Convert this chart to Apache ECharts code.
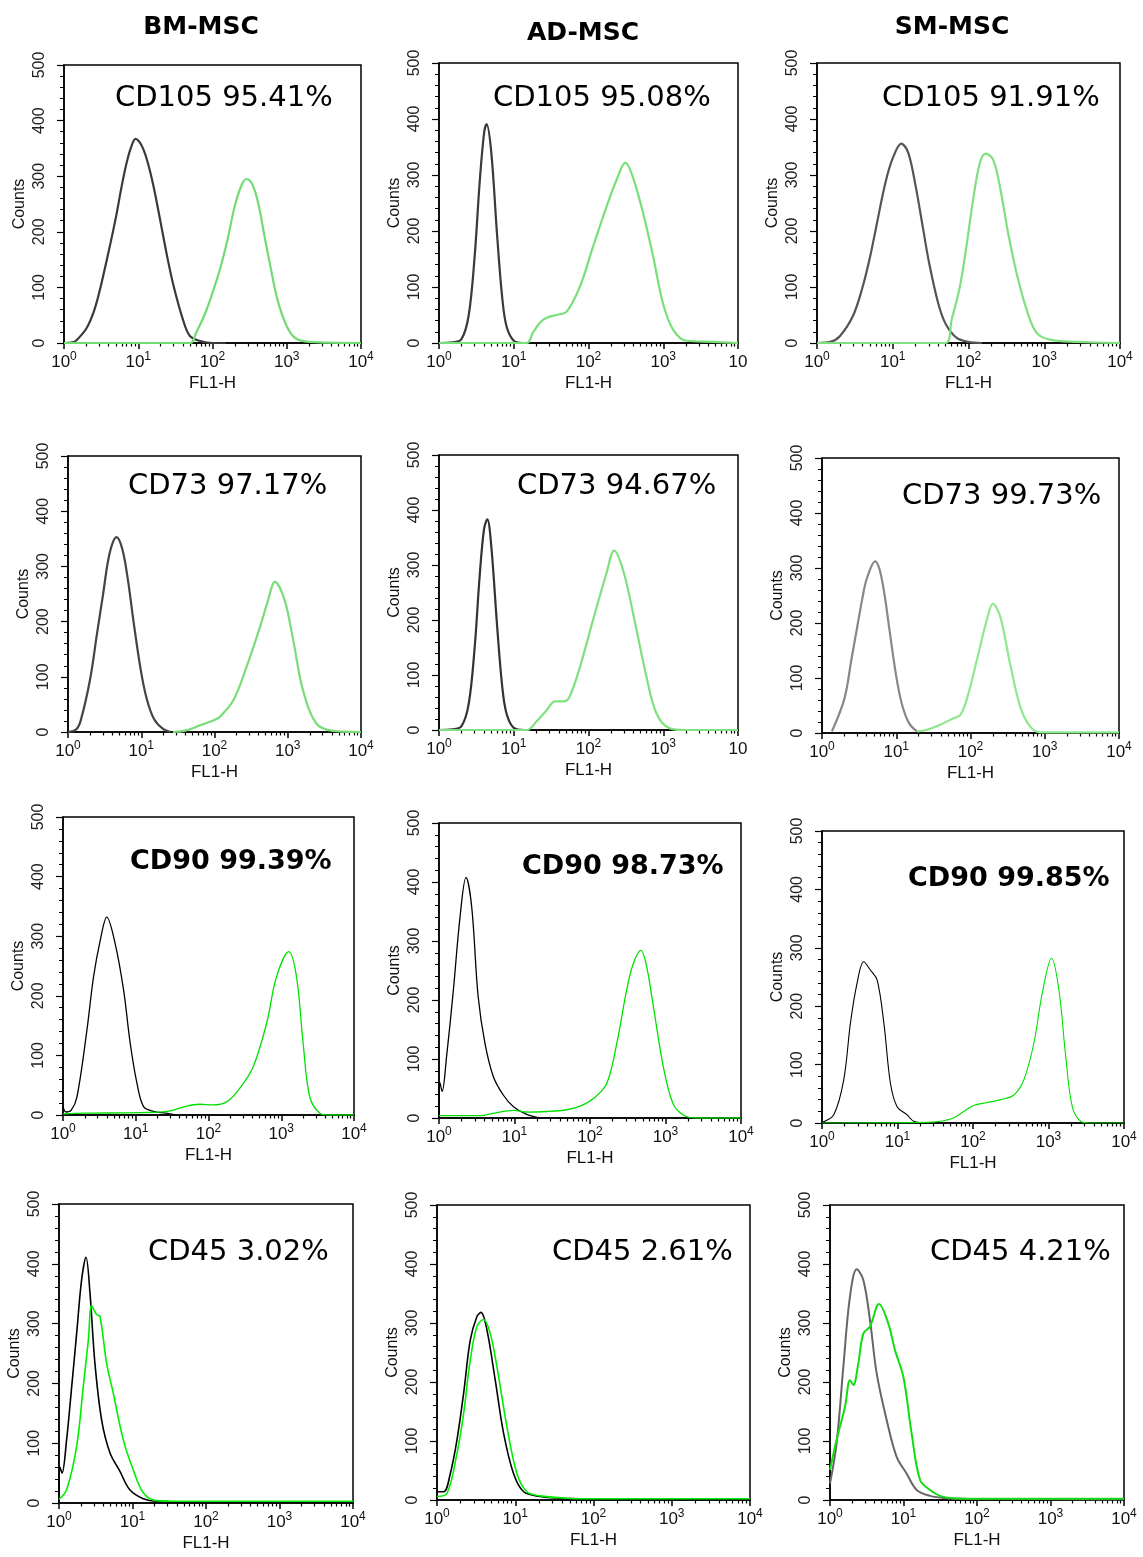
<!DOCTYPE html>
<html lang="fr">
<head>
<meta charset="utf-8">
<title>Immunophénotypage des CSM</title>
<script src="https://cdn.jsdelivr.net/npm/echarts@6/dist/echarts.min.js"></script>
<style>
  html, body { margin: 0; padding: 0; background: #fff; }
  #cytometrie { width: 1143px; height: 1557px; }
</style>
</head>
<body>
<div id="cytometrie"></div>
<script>
// Graduations de l'axe FL1-H (échelle log) et de l'axe Counts
const DECADES = [1, 10, 100, 1000, 10000];
const SOUS_GRADUATIONS = [2, 3, 4, 5, 6, 7, 8, 9, 20, 30, 40, 50, 60, 70, 80, 90,
  200, 300, 400, 500, 600, 700, 800, 900, 2000, 3000, 4000, 5000, 6000, 7000, 8000, 9000];
const COMPTAGE_MIN = 0;
const COMPTAGE_MAX = 500;
const COMPTAGE_PAS = 100;

// Titres des colonnes
const COLONNES = ['BM-MSC', 'AD-MSC', 'SM-MSC'];

// Histogrammes : [FL1-H, counts]. "Iso" = contrôle isotypique (courbe noire)
const bmCD105Iso = [[1, 0], [1.3, 1], [1.5, 6], [2, 26], [2.5, 55], [3, 92], [4, 165], [5, 226], [6, 283], [7, 325], [8, 352], [9.2, 367], [11, 356], [13, 331], [16, 283], [20, 217], [25, 150], [30, 102], [40, 42], [50, 12], [70, 3], [100, 0], [150, 0]];
const bmCD105 = [[1, 0], [50, 0], [60, 18], [80, 54], [100, 90], [130, 139], [160, 187], [200, 247], [250, 286], [290, 295], [350, 283], [420, 247], [500, 193], [600, 139], [750, 78], [1000, 30], [1300, 9], [2000, 2], [10000, 0]];

const adCD105Iso = [[1, 0], [1.5, 1], [2, 7], [2.5, 50], [3, 155], [3.5, 287], [4, 374], [4.33, 391], [5, 341], [6, 191], [7, 82], [8, 30], [10, 4], [13, 0]];
const adCD105 = [[1, 0], [14.8, 0], [18, 18], [22.4, 36], [27.5, 45], [37, 50], [51, 56], [77, 101], [115, 172], [174, 243], [237, 291], [312, 322], [395, 295], [537, 232], [731, 155], [995, 70], [1352, 24], [2040, 4], [4630, 2], [10000, 0]];

const smCD105Iso = [[1, 0], [1.5, 2], [2, 12], [3, 49], [4, 100], [5, 153], [6, 205], [8, 286], [10, 330], [13, 356], [16, 340], [20, 281], [25, 206], [30, 145], [40, 70], [50, 34], [70, 9], [100, 2], [150, 0]];
const smCD105 = [[1, 0], [49, 0], [60, 42], [77, 101], [94, 173], [115, 256], [141, 321], [169, 338], [212, 327], [259, 280], [334, 196], [431, 125], [584, 60], [794, 18], [1188, 6], [2690, 2], [10000, 0]];

const bmCD73Iso = [[1, 0], [1.3, 5], [1.5, 22], [2, 95], [2.5, 180], [3, 248], [3.5, 308], [4, 340], [4.6, 353], [5.5, 332], [6.5, 280], [8, 192], [10, 107], [12, 58], [15, 23], [20, 5], [25, 0]];
const bmCD73 = [[27, 0], [41, 3], [63, 12], [96, 21], [117, 27], [180, 57], [274, 118], [417, 190], [537, 238], [668, 272], [910, 238], [1188, 166], [1620, 75], [2470, 15], [4170, 2], [10000, 0]];

const adCD73Iso = [[1, 0], [1.5, 1], [2, 7], [2.5, 48], [3, 150], [3.5, 280], [4, 365], [4.43, 383], [5, 335], [6, 188], [7, 80], [8, 30], [10, 4], [14, 0]];
const adCD73 = [[1, 0], [14.9, 0], [20, 15], [27.5, 36], [35.5, 52], [46, 52], [56, 61], [77, 115], [115, 200], [174, 285], [220, 326], [290, 291], [395, 212], [596, 97], [812, 30], [1222, 3], [2000, 0], [10000, 0]];

const smCD73Iso = [[1.36, 3], [2, 62], [2.5, 135], [3, 195], [3.5, 245], [4, 280], [5.2, 312], [6, 296], [7, 249], [8, 193], [10, 103], [12, 51], [15, 17], [19, 3]];
const smCD73 = [[19, 3], [26, 6], [39, 15], [59, 27], [73, 33], [89, 61], [122, 133], [166, 206], [200, 235], [251, 212], [340, 127], [467, 48], [633, 12], [870, 1], [10000, 1]];

const bmCD90Iso = [[1, 14], [1.1, 5], [1.3, 8], [1.56, 31], [2.13, 142], [2.63, 232], [3.25, 293], [4, 332], [5.2, 288], [6.8, 210], [8.4, 120], [10.4, 53], [12.8, 14], [17.5, 6], [26, 3], [35, 0]];
const bmCD90 = [[1, 2], [2, 3], [11.5, 4], [26.7, 6], [50, 15], [76, 18], [116, 17], [178, 22], [270, 45], [412, 81], [630, 154], [861, 232], [1270, 274], [1620, 232], [2000, 120], [2460, 31], [3380, 3], [4500, 0], [10000, 0]];

const adCD90Iso = [[1, 0], [1.03, 60], [1.1, 45], [1.26, 104], [1.55, 217], [1.9, 341], [2.28, 408], [2.71, 358], [3.3, 206], [4.07, 126], [5.25, 70], [7.1, 39], [9.7, 19], [14.5, 6], [21.8, 0]];
const adCD90 = [[1, 4], [3.5, 4], [5.2, 8], [9.7, 13], [14.5, 10], [26.7, 11], [49, 14], [74, 20], [111, 33], [166, 58], [226, 126], [306, 217], [375, 262], [473, 284], [562, 257], [691, 189], [935, 87], [1260, 24], [1720, 5], [2500, 0], [10000, 0]];

const smCD90Iso = [[1, 1], [1.43, 14], [1.94, 74], [2.38, 171], [2.91, 239], [3.57, 276], [4.37, 262], [5.37, 245], [6.6, 171], [8.06, 68], [9.87, 28], [13.4, 14], [16.4, 3], [24.6, 0]];
const smCD90 = [[1, 0], [24.6, 1], [37, 3], [56, 9], [76, 20], [102, 30], [154, 35], [232, 40], [348, 48], [472, 74], [641, 137], [826, 222], [1097, 282], [1374, 228], [1690, 114], [2065, 28], [2663, 3], [3500, 0], [10000, 0]];

const bmCD45Iso = [[1, 5], [1.03, 60], [1.1, 50], [1.27, 106], [1.49, 195], [1.74, 284], [2.03, 373], [2.33, 411], [2.64, 351], [3.08, 234], [3.8, 139], [4.93, 84], [6.75, 53], [9.2, 22], [14, 7], [21, 3], [30, 3], [32, 0]];
const bmCD45 = [[1, 6], [1.27, 22], [1.74, 95], [2.14, 195], [2.51, 273], [2.78, 330], [3.25, 315], [3.61, 312], [4.44, 234], [5.47, 184], [7.48, 106], [10.2, 56], [14, 17], [21, 4], [40, 3], [10000, 3]];

const adCD45Iso = [[1, 14], [1.22, 14], [1.48, 45], [1.8, 102], [2.19, 181], [2.66, 271], [3.24, 311], [3.65, 318], [4.35, 288], [5.55, 203], [7.1, 113], [9.5, 45], [12.8, 14], [20.9, 6], [37.5, 3], [67.6, 2], [80, 0]];
const adCD45 = [[1, 6], [1.34, 11], [1.8, 79], [2.19, 147], [2.66, 237], [3.24, 294], [3.94, 306], [4.79, 282], [5.83, 226], [7.83, 124], [10.5, 45], [14.1, 14], [20.9, 7], [45.7, 3], [80, 2], [10000, 2]];

const smCD45Iso = [[1, 28], [1.23, 96], [1.52, 226], [1.87, 345], [2.31, 391], [2.84, 373], [3.5, 305], [4.31, 215], [5.89, 136], [8.07, 73], [11, 45], [15.1, 17], [23, 7], [38.6, 3], [70, 2], [10000, 1]];
const smCD45 = [[1, 51], [1.23, 102], [1.6, 158], [1.87, 203], [2.08, 195], [2.43, 232], [2.84, 282], [3.5, 294], [4.64, 332], [6.22, 299], [7.66, 254], [9.95, 209], [12.9, 113], [16.8, 34], [23, 17], [31.4, 7], [47.6, 3], [100, 2], [10000, 2]];

// Mise en page de chaque panneau : grille [left, top, width, height], position du texte, couleurs
const PANNEAUX = [
  { texte: 'CD105 95.41%', iso: bmCD105Iso, marqueur: bmCD105, grille: [64, 65, 297, 278], etiquette: [115, 98], couleurs: ['#3a3a3a', '#72dc72'], epaisseur: 2.2, gras: false },
  { texte: 'CD105 95.08%', iso: adCD105Iso, marqueur: adCD105, grille: [439, 63, 299, 280], etiquette: [493, 98], couleurs: ['#3a3a3a', '#78e078'], epaisseur: 2.2, gras: false, coupe: true },
  { texte: 'CD105 91.91%', iso: smCD105Iso, marqueur: smCD105, grille: [817, 63, 303, 280], etiquette: [882, 98], couleurs: ['#555555', '#80e080'], epaisseur: 2.2, gras: false },
  { texte: 'CD73 97.17%', iso: bmCD73Iso, marqueur: bmCD73, grille: [68, 456, 293, 276], etiquette: [128, 486], couleurs: ['#444444', '#7cdc7c'], epaisseur: 2.2, gras: false },
  { texte: 'CD73 94.67%', iso: adCD73Iso, marqueur: adCD73, grille: [439, 455, 299, 275], etiquette: [517, 486], couleurs: ['#333333', '#80e080'], epaisseur: 2.2, gras: false, coupe: true },
  { texte: 'CD73 99.73%', iso: smCD73Iso, marqueur: smCD73, grille: [822, 458, 297, 275], etiquette: [902, 496], couleurs: ['#888888', '#8fe88f'], epaisseur: 2.2, gras: false },
  { texte: 'CD90 99.39%', iso: bmCD90Iso, marqueur: bmCD90, grille: [63, 817, 291, 298], etiquette: [130, 862], couleurs: ['#000000', '#00e000'], epaisseur: 1.3, gras: true },
  { texte: 'CD90 98.73%', iso: adCD90Iso, marqueur: adCD90, grille: [439, 823, 302, 295], etiquette: [522, 867], couleurs: ['#000000', '#00e000'], epaisseur: 1.3, gras: true },
  { texte: 'CD90 99.85%', iso: smCD90Iso, marqueur: smCD90, grille: [822, 831, 302, 292], etiquette: [908, 879], couleurs: ['#000000', '#00e000'], epaisseur: 1.1, gras: true },
  { texte: 'CD45 3.02%', iso: bmCD45Iso, marqueur: bmCD45, grille: [59, 1204, 294, 299], etiquette: [148, 1252], couleurs: ['#000000', '#00ee00'], epaisseur: 1.6, gras: false },
  { texte: 'CD45 2.61%', iso: adCD45Iso, marqueur: adCD45, grille: [437, 1205, 313, 295], etiquette: [552, 1252], couleurs: ['#000000', '#00ee00'], epaisseur: 1.6, gras: false },
  { texte: 'CD45 4.21%', iso: smCD45Iso, marqueur: smCD45, grille: [830, 1205, 294, 295], etiquette: [930, 1252], couleurs: ['#666666', '#11dd11'], epaisseur: 2, gras: false }
];
const ENTETES = [[201, 27], [583, 33], [952, 27]];

const POLICE_AXE = 'Liberation Sans, Arial, sans-serif';
const POLICE_TEXTE = 'DejaVu Sans, sans-serif';

const chart = echarts.init(document.getElementById('cytometrie'));

// Une grille par histogramme
const grilles = PANNEAUX.map((p) => ({
  left: p.grille[0], top: p.grille[1], width: p.grille[2], height: p.grille[3],
  show: true, borderColor: '#000', borderWidth: 1.5, backgroundColor: 'transparent'
}));

// Deux axes x par grille : décades avec étiquettes 10^n, puis sous-graduations log
const axesX = [];
PANNEAUX.forEach((p, i) => {
  axesX.push({
    type: 'log', logBase: 10, gridIndex: i, min: 1, max: 10000, position: 'bottom',
    name: 'FL1-H', nameLocation: 'middle', nameGap: 32,
    nameTextStyle: { fontFamily: POLICE_AXE, fontSize: 17, color: '#111' },
    axisLine: { show: true, lineStyle: { color: '#000', width: 1.5 } },
    axisTick: { show: true, customValues: DECADES, length: 6, lineStyle: { color: '#000', width: 1.5 } },
    axisLabel: {
      customValues: DECADES, margin: 8, showMinLabel: true, showMaxLabel: true,
      formatter: (v) => {
        const n = Math.round(Math.log10(v));
        // l'étiquette 10^4 est rognée dans la figure d'origine (colonne AD)
        if (p.coupe && n === 4) return '{b|10}';
        return '{b|10}{s|' + n + '}';
      },
      rich: {
        b: { fontFamily: POLICE_AXE, fontSize: 17, color: '#111', lineHeight: 20, verticalAlign: 'bottom' },
        s: { fontFamily: POLICE_AXE, fontSize: 12, color: '#111', lineHeight: 12, verticalAlign: 'top' }
      }
    },
    splitLine: { show: false }
  });
  axesX.push({
    type: 'log', logBase: 10, gridIndex: i, min: 1, max: 10000, position: 'bottom',
    axisLine: { show: false },
    axisTick: { show: true, customValues: SOUS_GRADUATIONS, length: 3.5, lineStyle: { color: '#000', width: 1.2 } },
    axisLabel: { show: false },
    splitLine: { show: false }
  });
});

const axesY = PANNEAUX.map((p, i) => ({
  type: 'value', gridIndex: i, min: COMPTAGE_MIN, max: COMPTAGE_MAX, interval: COMPTAGE_PAS,
  name: 'Counts', nameLocation: 'middle', nameGap: 36, nameRotate: 90,
  nameTextStyle: { fontFamily: POLICE_AXE, fontSize: 16, color: '#111' },
  axisLine: { show: true, lineStyle: { color: '#000', width: 1.5 } },
  axisTick: { show: true, length: 7, lineStyle: { color: '#000', width: 1.2 } },
  minorTick: { show: true, splitNumber: 5, length: 4, lineStyle: { color: '#000', width: 1 } },
  axisLabel: { rotate: 90, margin: 16, fontFamily: POLICE_AXE, fontSize: 16, color: '#222' },
  splitLine: { show: false }
}));

// Courbe isotype (noire) puis marqueur (verte) par panneau
const series = [];
PANNEAUX.forEach((p, i) => {
  [p.iso, p.marqueur].forEach((donnees, k) => {
    series.push({
      type: 'line', xAxisIndex: 2 * i, yAxisIndex: i, data: donnees,
      showSymbol: false, symbol: 'none', smooth: 0.35, silent: true, z: 2 + k,
      lineStyle: { color: p.couleurs[k], width: p.epaisseur }
    });
  });
});

// Textes : titres de colonnes et pourcentages
const textes = [];
COLONNES.forEach((nom, j) => {
  textes.push({
    type: 'text', x: ENTETES[j][0], y: ENTETES[j][1], silent: true,
    style: { text: nom, fill: '#000', fontFamily: POLICE_TEXTE, fontWeight: 'bold', fontSize: 25, align: 'center', verticalAlign: 'middle' }
  });
});
PANNEAUX.forEach((p) => {
  textes.push({
    type: 'text', x: p.etiquette[0], y: p.etiquette[1], silent: true,
    style: {
      text: p.texte, fill: '#000', fontFamily: POLICE_TEXTE,
      fontWeight: p.gras ? 'bold' : 'normal', fontSize: p.gras ? 27 : 29,
      align: 'left', verticalAlign: 'middle'
    }
  });
});

chart.setOption({
  animation: false,
  backgroundColor: '#fff',
  grid: grilles,
  xAxis: axesX,
  yAxis: axesY,
  series: series,
  graphic: textes
});
</script>
</body>
</html>
